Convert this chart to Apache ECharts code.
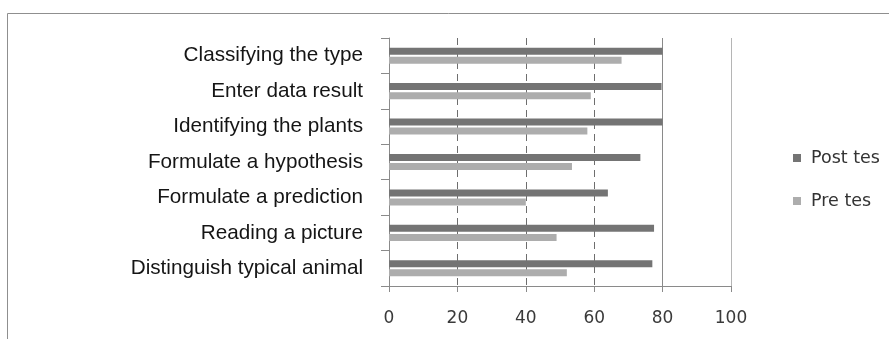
<!DOCTYPE html>
<html>
<head>
<meta charset="utf-8">
<script src="https://cdn.jsdelivr.net/npm/echarts@6/dist/echarts.min.js"></script>
<style>
  html, body { margin: 0; padding: 0; background: #fff; }
  #chart { width: 889px; height: 339px; }
</style>
</head>
<body>
<div id="chart"></div>
<script>
// Skill categories, listed top to bottom
const categories = [
  'Classifying the type',
  'Enter data result',
  'Identifying the plants',
  'Formulate a hypothesis',
  'Formulate a prediction',
  'Reading a picture',
  'Distinguish typical animal'
];
const postTest = [80, 79.7, 80, 73.5, 64, 77.5, 77];
const preTest = [68, 59, 58, 53.5, 40, 49, 52];
const seriesNames = ['Post tes', 'Pre tes'];
const xTicks = { min: 0, max: 100, interval: 20 };
const dashedRefs = [20, 40, 60];
const solidRefs = [80, 100];

const chart = echarts.init(document.getElementById('chart'), null, { renderer: 'canvas' });

// Vertical reference lines: dashed at the lower ticks, solid at 80 and 100
const refLines = [
  ...dashedRefs.map(v => ({ xAxis: v, lineStyle: { type: [7, 5], color: '#6e6e6e', width: 1 } })),
  { xAxis: solidRefs[0], lineStyle: { type: 'solid', color: '#8a8a8a', width: 1 } },
  { xAxis: solidRefs[1], lineStyle: { type: 'solid', color: '#b5b5b5', width: 1 } }
];

chart.setOption({
  animation: false,
  textStyle: { fontFamily: 'Liberation Sans' },
  graphic: [{
    type: 'rect',
    shape: { x: 7.5, y: 13.5, width: 900, height: 400 },
    style: { fill: 'none', stroke: '#8f8f8f', lineWidth: 1 },
    silent: true
  }],
  legend: {
    orient: 'vertical',
    left: 788,
    top: 144,
    itemWidth: 8,
    itemHeight: 8,
    itemGap: 25,
    icon: 'rect',
    textStyle: {
      fontFamily: 'DejaVu Sans',
      fontSize: 17.5,
      lineHeight: 18,
      color: '#333',
      padding: [0, 0, 0, 5]
    },
    data: seriesNames
  },
  grid: { left: 389, right: 158, top: 38, bottom: 53 },
  xAxis: {
    type: 'value',
    min: xTicks.min,
    max: xTicks.max,
    interval: xTicks.interval,
    axisLine: { show: true, lineStyle: { color: '#8a8a8a' } },
    axisTick: { show: true, length: 6, lineStyle: { color: '#8a8a8a' } },
    axisLabel: { fontFamily: 'DejaVu Sans', fontSize: 17, color: '#3a3a3a', margin: 24 },
    splitLine: { show: false }
  },
  yAxis: {
    type: 'category',
    data: categories,
    inverse: true,
    axisLine: { show: true, lineStyle: { color: '#8a8a8a' } },
    axisTick: { show: true, length: 8, inside: false, lineStyle: { color: '#8a8a8a' } },
    axisLabel: {
      fontFamily: 'Liberation Sans',
      fontSize: 20.7,
      color: '#151515',
      margin: 26,
      padding: [0, 0, 4, 0]
    }
  },
  series: [
    {
      name: seriesNames[0],
      type: 'bar',
      data: postTest,
      barWidth: 7,
      barGap: '30%',
      itemStyle: { color: '#747474' },
      z: 3,
      markLine: {
        silent: true,
        symbol: 'none',
        label: { show: false },
        z: 1,
        data: refLines
      }
    },
    {
      name: seriesNames[1],
      type: 'bar',
      data: preTest,
      barWidth: 7,
      itemStyle: { color: '#adadad' },
      z: 3
    }
  ]
});
</script>
</body>
</html>
